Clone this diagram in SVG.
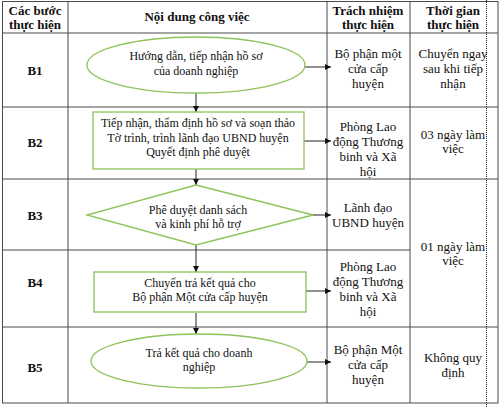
<svg xmlns="http://www.w3.org/2000/svg" width="502" height="407" viewBox="0 0 502 407">
<style>
.grid{stroke:#4a4a4a;stroke-width:1;fill:none}
.node{fill:#fff;stroke:#8dc35a;stroke-width:1.3}
.t{font-family:"Liberation Serif","Times New Roman",serif;font-size:12px;fill:#111;text-anchor:middle}
.c{font-family:"Liberation Serif","Times New Roman",serif;font-size:13px;fill:#111;text-anchor:middle}
.h{font-family:"Liberation Serif","Times New Roman",serif;font-size:13px;font-weight:bold;fill:#111;text-anchor:middle}
.conn{stroke:#222;stroke-width:1;fill:none;marker-end:url(#ah)}
</style>
<defs>
<marker id="ah" viewBox="0 0 10 10" refX="10" refY="5" markerWidth="6" markerHeight="6" orient="auto" markerUnits="userSpaceOnUse">
<path d="M0,0 L10,5 L0,10 z" fill="#111"/>
</marker>
</defs>
<rect width="502" height="407" fill="#fff"/>
<g id="table">
<rect class="grid" x="2.5" y="1.5" width="495.5" height="401.5"/>
<line class="grid" x1="68" y1="1.5" x2="68" y2="403"/>
<line class="grid" x1="327" y1="1.5" x2="327" y2="403"/>
<line class="grid" x1="410" y1="1.5" x2="410" y2="403"/>
<line class="grid" x1="2.5" y1="33" x2="498" y2="33"/>
<line class="grid" x1="2.5" y1="107" x2="498" y2="107"/>
<line class="grid" x1="2.5" y1="179" x2="498" y2="179"/>
<line class="grid" x1="2.5" y1="250" x2="410" y2="250"/>
<line class="grid" x1="2.5" y1="327" x2="498" y2="327"/>
<line x1="486.5" y1="0" x2="486.5" y2="407" stroke="#222" stroke-width="1" stroke-dasharray="1,1"/>
</g>
<g id="headers">
<text class="h" x="35" y="15">Các bước</text>
<text class="h" x="35" y="29">thực hiện</text>
<text class="h" x="197" y="21">Nội dung công việc</text>
<text class="h" x="368" y="15">Trách nhiệm</text>
<text class="h" x="368" y="29">thực hiện</text>
<text class="h" x="453" y="15">Thời gian</text>
<text class="h" x="453" y="29">thực hiện</text>
</g>
<g id="steps">
<text class="h" x="35" y="75">B1</text>
<text class="h" x="35" y="147">B2</text>
<text class="h" x="35" y="220">B3</text>
<text class="h" x="35" y="287">B4</text>
<text class="h" x="35" y="372">B5</text>
</g>
<g id="connectors">
<line class="conn" x1="196" y1="93" x2="196" y2="112"/>
<line class="conn" x1="196" y1="169" x2="196" y2="185"/>
<line class="conn" x1="196" y1="245" x2="196" y2="272"/>
<line class="conn" x1="196" y1="313" x2="196" y2="334"/>
<line class="conn" x1="305" y1="67" x2="331" y2="67"/>
<line class="conn" x1="304" y1="141" x2="331" y2="141"/>
<line class="conn" x1="313" y1="215" x2="331" y2="215"/>
<line class="conn" x1="306" y1="291" x2="331" y2="291"/>
<line class="conn" x1="307" y1="362" x2="331" y2="362"/>
</g>
<g id="node-b1">
<ellipse class="node" cx="196" cy="65" rx="109" ry="28"/>
<text class="t" x="196" y="60">Hướng dẫn, tiếp nhận hồ sơ</text>
<text class="t" x="196" y="75">của doanh nghiệp</text>
</g>
<g id="node-b2">
<rect class="node" x="93" y="112" width="211" height="57"/>
<text class="t" x="198" y="127">Tiếp nhận, thẩm định hồ sơ và soạn thảo</text>
<text class="t" x="198" y="142">Tờ trình, trình lãnh đạo UBND huyện</text>
<text class="t" x="198" y="156">Quyết định phê duyệt</text>
</g>
<g id="node-b3">
<polygon class="node" points="196,185 313,215 196,245 87,215"/>
<text class="t" x="198" y="214">Phê duyệt danh sách</text>
<text class="t" x="198" y="228">và kinh phí hỗ trợ</text>
</g>
<g id="node-b4">
<rect class="node" x="94" y="272" width="212" height="40"/>
<text class="t" x="200" y="287">Chuyển trả kết quả cho</text>
<text class="t" x="200" y="301">Bộ phận Một cửa cấp huyện</text>
</g>
<g id="node-b5">
<ellipse class="node" cx="199" cy="361" rx="108" ry="27"/>
<text class="t" x="199" y="357">Trả kết quả cho doanh</text>
<text class="t" x="199" y="371">nghiệp</text>
</g>
<g id="responsible">
<text class="c" x="368" y="58">Bộ phận một</text>
<text class="c" x="368" y="73">cửa cấp</text>
<text class="c" x="368" y="88">huyện</text>
<text class="c" x="368" y="131">Phòng Lao</text>
<text class="c" x="368" y="146">động Thương</text>
<text class="c" x="368" y="161">binh và Xã</text>
<text class="c" x="368" y="176">hội</text>
<text class="c" x="368" y="212">Lãnh đạo</text>
<text class="c" x="368" y="227">UBND huyện</text>
<text class="c" x="368" y="271">Phòng Lao</text>
<text class="c" x="368" y="286">động Thương</text>
<text class="c" x="368" y="301">binh và Xã</text>
<text class="c" x="368" y="316">hội</text>
<text class="c" x="368" y="354">Bộ phận Một</text>
<text class="c" x="368" y="369">cửa cấp</text>
<text class="c" x="368" y="384">huyện</text>
</g>
<g id="time">
<text class="c" x="453" y="58">Chuyển ngay</text>
<text class="c" x="453" y="73">sau khi tiếp</text>
<text class="c" x="453" y="88">nhận</text>
<text class="c" x="453" y="139">03 ngày làm</text>
<text class="c" x="453" y="153">việc</text>
<text class="c" x="453" y="251">01 ngày làm</text>
<text class="c" x="453" y="265">việc</text>
<text class="c" x="453" y="362">Không quy</text>
<text class="c" x="453" y="377">định</text>
</g>
</svg>
